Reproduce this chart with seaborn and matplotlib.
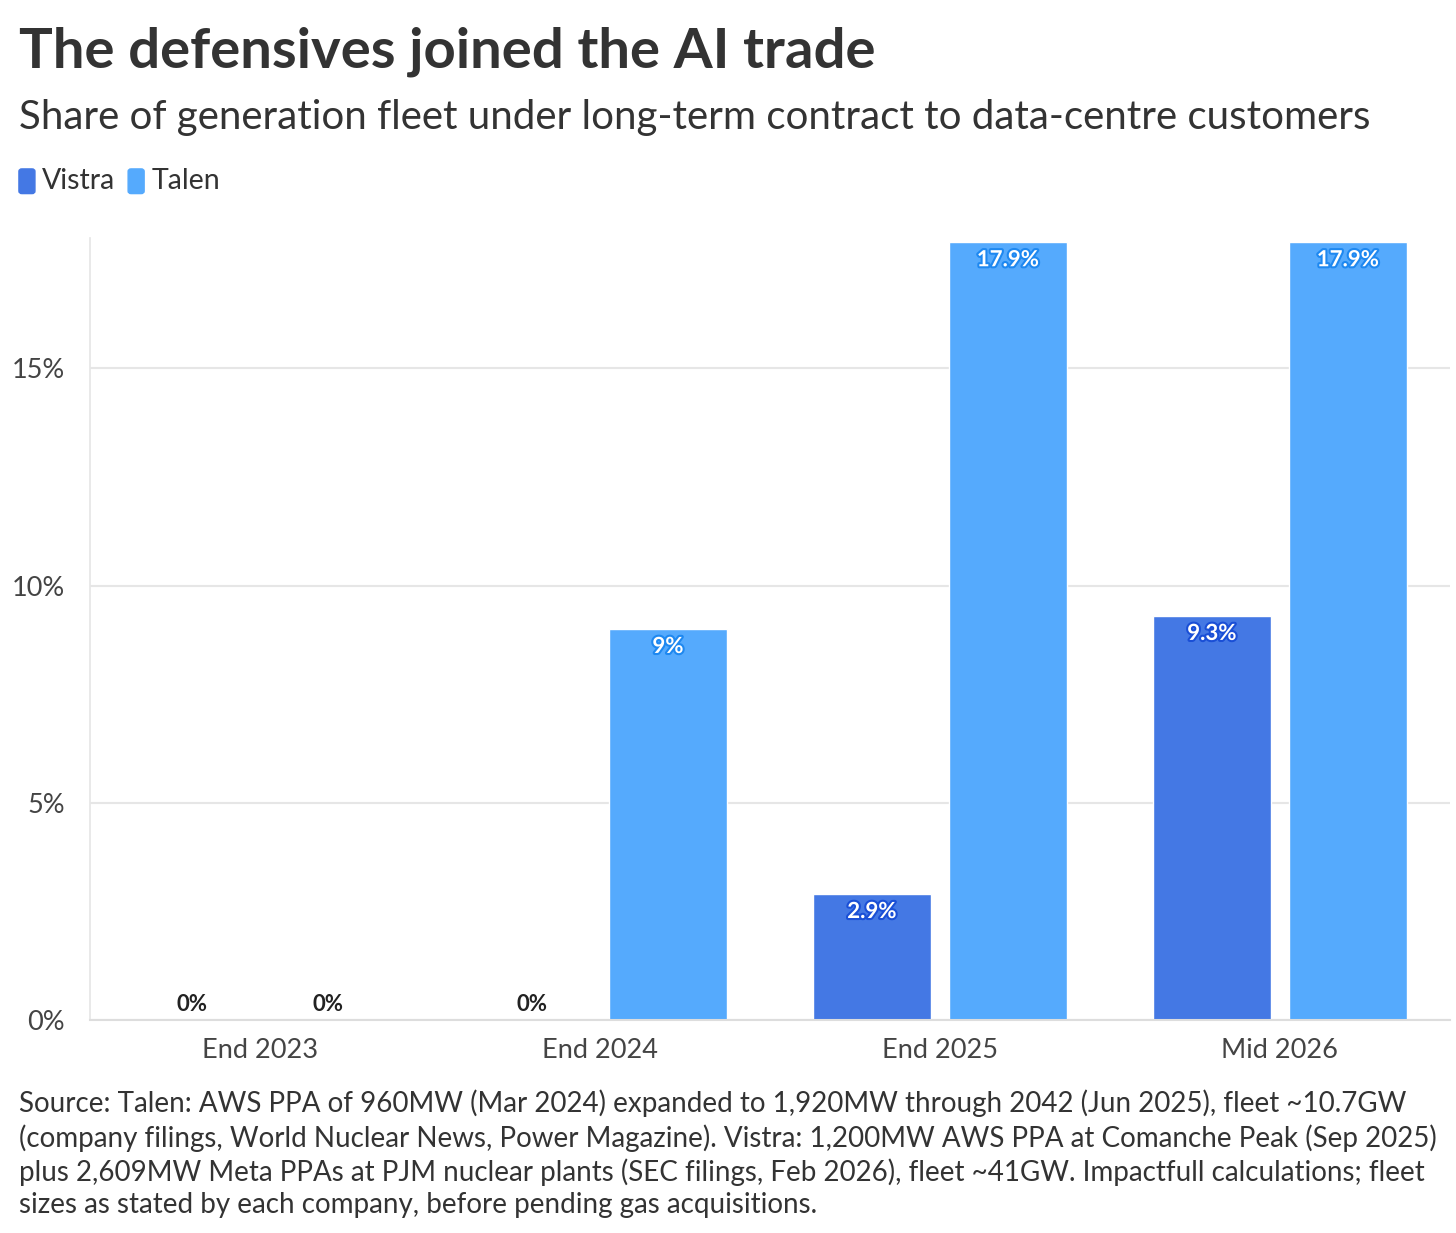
import matplotlib
matplotlib.use("Agg")
import matplotlib.pyplot as plt
import matplotlib.patheffects as pe
from matplotlib.patches import FancyBboxPatch
import seaborn as sns
import pandas as pd

categories = ["End 2023", "End 2024", "End 2025", "Mid 2026"]
vistra = [0, 0, 2.9, 9.3]
talen = [0, 9, 17.9, 17.9]
series = ["Vistra", "Talen"]
colors = {"Vistra": "#4478E4", "Talen": "#55AAFD"}
edge = {"Vistra": "#1A4FD6", "Talen": "#1E88F0"}

df = pd.DataFrame({
    "cat": categories * 2,
    "val": vistra + talen,
    "series": ["Vistra"] * 4 + ["Talen"] * 4,
})

sns.set_theme(style="white")
plt.rcParams["font.family"] = ["Lato", "DejaVu Sans"]

fig = plt.figure(figsize=(14.56, 12.33), dpi=100)
ax = fig.add_axes([0.0618, 0.1727, 0.934, 0.6343])
sns.barplot(data=df, x="cat", y="val", hue="series", order=categories,
            hue_order=series, palette=colors, width=0.8, gap=0.13,
            saturation=1, legend=False, ax=ax)
ax.set_xlim(-0.5, 3.5)
ax.set_ylim(0, 18)
ax.set_yticks([0, 5, 10, 15])
ax.set_yticklabels(["0%", "5%", "10%", "15%"], fontsize=19.5, color="#444444")
ax.set_xticks(range(4))
ax.set_xticklabels(categories, fontsize=19.5, color="#444444")
ax.set_xlabel(""); ax.set_ylabel("")
ax.grid(axis="y", color="#E6E6E6", linewidth=1.5)
ax.set_axisbelow(True)
for s in ["top", "right"]:
    ax.spines[s].set_visible(False)
ax.spines["left"].set_color("#E6E6E6")
ax.spines["bottom"].set_color("#DDDDDD")
ax.spines["bottom"].set_linewidth(1.5)
ax.tick_params(axis="x", length=8, color="#DDDDDD", width=1.5, pad=5)
ax.tick_params(axis="y", length=0, pad=18)

for container, name in zip(ax.containers, series):
    for bar in container:
        h = bar.get_height()
        xc = bar.get_x() + bar.get_width() / 2
        if h == 0:
            ax.annotate("0%", (xc, 0), xytext=(0, 4), textcoords="offset points",
                        ha="center", va="bottom", fontsize=16, fontweight="bold",
                        color="#222222")
        else:
            lbl = f"{h:g}%"
            ax.annotate(lbl, (xc, h), xytext=(0, -5), textcoords="offset points",
                        ha="center", va="top", fontsize=16, fontweight="bold",
                        color="white",
                        path_effects=[pe.withStroke(linewidth=3, foreground=edge[name])])

fig.text(0.013, 0.958, "The defensives joined the AI trade", fontsize=40.5,
         fontweight="bold", color="#333333", va="center")
fig.text(0.013, 0.905, "Share of generation fleet under long-term contract to data-centre customers",
         fontsize=29, color="#333333", va="center")
for name, x in zip(series, [0.013, 0.088]):
    fig.patches.append(FancyBboxPatch((x, 0.843), 0.011, 0.020,
                                      boxstyle="round,pad=0,rounding_size=0.002",
                                      transform=fig.transFigure, color=colors[name]))
    fig.text(x + 0.016, 0.853, name, fontsize=20.5, color="#333333", va="center")

foot = ("Source: Talen: AWS PPA of 960MW (Mar 2024) expanded to 1,920MW through 2042 (Jun 2025), fleet ~10.7GW\n"
        "(company filings, World Nuclear News, Power Magazine). Vistra: 1,200MW AWS PPA at Comanche Peak (Sep 2025)\n"
        "plus 2,609MW Meta PPAs at PJM nuclear plants (SEC filings, Feb 2026), fleet ~41GW. Impactfull calculations; fleet\n"
        "sizes as stated by each company, before pending gas acquisitions.")
fig.text(0.013, 0.012, foot, fontsize=20, color="#333333", va="bottom", linespacing=1.3)

fig.savefig("out.png", dpi=100)
